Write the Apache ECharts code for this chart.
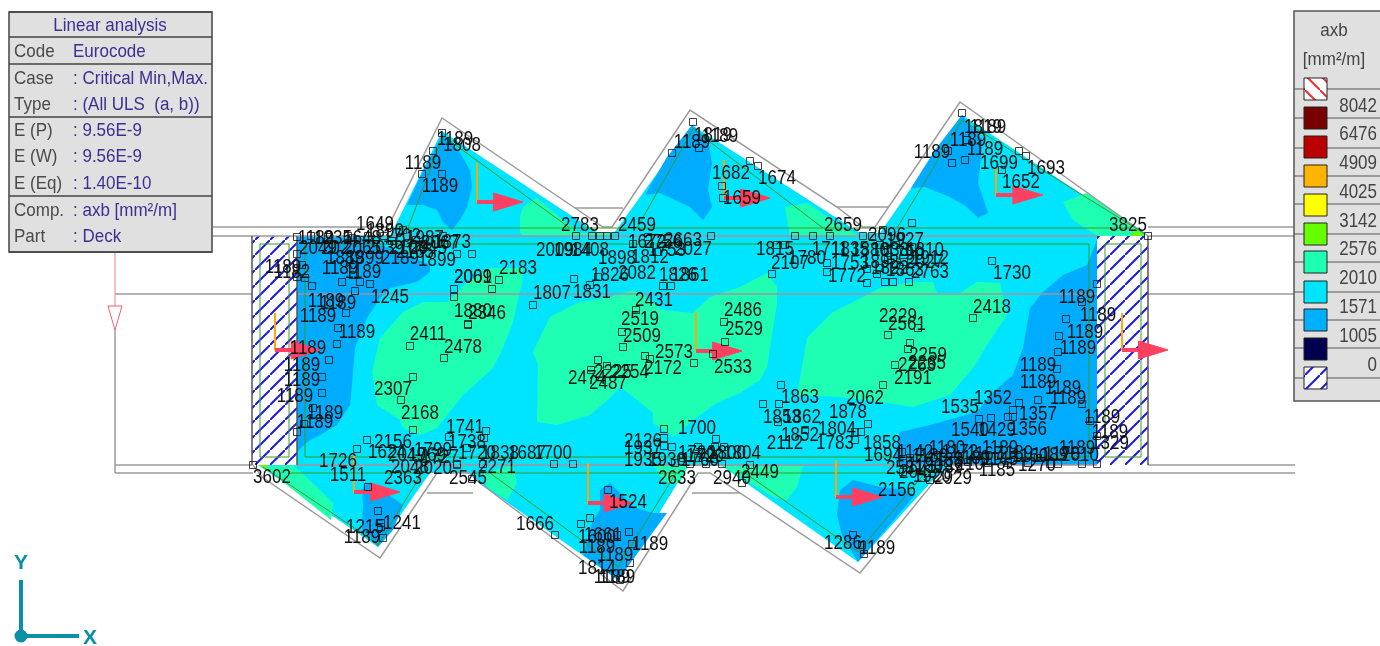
<!DOCTYPE html>
<html><head><meta charset="utf-8">
<style>html,body{margin:0;padding:0;background:#fff}#c{width:1380px;height:646px}</style>
<script src="https://cdn.jsdelivr.net/npm/echarts@6/dist/echarts.min.js"></script>
</head><body><div id="c"></div>
<script>
// ---------- plan geometry (drawing units: x right, y down) ----------
const deckOutline=[[297,236],[390,236],[442,131],[598,233],[614,233],[692,125],[860,233],[880,233],[962,115],[1145,236],[1097,236],[1097,465],[953,465],[933,480],[858,562],[722,466],[688,466],[618,580],[478,482],[468,473],[430,473],[378,547],[258,465],[297,465]];
const supportLeft=[[252,236],[297,236],[297,465],[252,465]];
const supportRight=[[1097,236],[1148,236],[1148,465],[1097,465]];
const zoneMint=[
 [[372,372],[380,338],[403,312],[423,302],[447,302],[457,292],[467,283],[490,268],[523,268],[522,283],[513,322],[503,348],[493,368],[463,395],[437,428],[420,435],[403,428],[400,420],[377,405]],
 [[533,352],[550,317],[577,303],[610,297],[633,290],[647,298],[663,310],[693,313],[710,297],[740,287],[767,273],[777,287],[777,303],[767,367],[760,380],[740,393],[717,403],[697,417],[673,437],[653,423],[653,413],[637,400],[620,387],[610,398],[590,415],[557,425],[537,422],[538,365]],
 [[797,395],[807,338],[833,312],[863,297],[880,288],[913,282],[933,282],[937,293],[960,293],[977,282],[1000,283],[1007,315],[987,345],[973,368],[950,395],[913,407],[880,402],[840,397]],
 [[520,233],[520,217],[523,207],[537,198],[563,220],[580,233],[610,233],[610,236],[523,236]],
 [[785,207],[807,203],[837,223],[855,233],[860,236],[790,236]],
 [[1063,202],[1087,193],[1145,233],[1145,236],[1097,236],[1073,220]],
 [[263,466],[293,465],[317,487],[333,503],[331,520]],
 [[483,473],[513,465],[517,483],[507,500],[487,487]],
 [[653,465],[688,466],[680,483],[665,483]],
 [[722,466],[803,466],[797,487],[787,500],[773,497]]
];
const zoneBlue=[
 [[297,237],[360,238],[400,252],[430,265],[430,272],[417,282],[390,288],[380,298],[367,318],[355,348],[352,385],[350,405],[337,425],[320,435],[307,442],[297,452]],
 [[1097,240],[1087,265],[1063,275],[1043,292],[1030,308],[1023,348],[1013,375],[993,392],[977,412],[930,425],[900,432],[895,455],[897,465],[1097,465]],
 [[443,133],[460,153],[470,170],[472,187],[467,207],[460,220],[452,230],[443,222],[437,210],[423,205],[407,205],[420,177],[433,153]],
 [[692,125],[708,140],[712,163],[708,190],[712,207],[703,220],[690,207],[660,193],[645,195],[667,157]],
 [[962,115],[983,140],[978,183],[988,213],[978,218],[967,207],[950,197],[925,187],[911,188],[935,150]],
 [[362,490],[367,483],[385,492],[403,505],[393,530],[378,547],[362,530],[363,505]],
 [[600,490],[610,483],[620,493],[633,507],[653,513],[667,513],[618,580],[583,555],[593,520],[600,510]],
 [[840,490],[853,480],[880,487],[905,490],[915,495],[858,562],[842,535],[837,515]]
];
const zoneLime=[[[258,465],[268,465],[267,469]],[[1136,230],[1145,236],[1130,236]]];
const greyLines=[
 [[213,227],[388,227]],[[1148,227],[1295,227]],[[213,236],[297,236]],[[1148,236],[1295,236]],
 [[115,294],[252,294]],[[1148,294],[1295,294]],[[115,330],[115,473]],
 [[115,465],[252,465]],[[1148,465],[1295,465]],[[115,473],[253,473]],[[957,473],[1295,473]],
 [[388,227],[442,118],[575,208],[603,227],[612,227],[690,110],[837,207],[863,227],[875,227],[960,102],[1148,236]],
 [[575,208],[623,208]],[[837,207],[888,207]],
 [[253,465],[262,477],[380,558],[437,473],[470,473],[480,483],[623,591],[698,473],[710,473],[860,573],[933,483],[957,473]],
 [[427,493],[473,493]],[[692,493],[740,493]]
];
const deckLines=[[[297,236],[1097,236]],[[297,294],[1097,294]],[[297,465],[1097,465]]];
const darkLines=[[[252,236],[252,465]],[[297,236],[297,465]],[[1148,236],[1148,465]]];
const greenLines=[
 [[395,228],[1130,228]],
 [[305,244],[1089,244],[1089,457],[305,457],[305,244]],
 [[260,244],[289,244],[289,457],[260,457],[260,244]],
 [[1105,244],[1141,244],[1141,457],[1105,457],[1105,244]],
 [[290,473],[424,473]],[[475,473],[678,473]],[[735,473],[930,473]],
 [[408,228],[443,136],[570,228]],
 [[637,228],[693,129],[823,228]],
 [[897,228],[962,120],[1145,234]],
 [[263,467],[353,527],[378,545],[422,473]],
 [[490,473],[618,567],[676,473]],
 [[745,473],[858,552],[925,473]]
];
// ---------- load arrows: origin, top of the orange stem, tip ----------
const arrowX=[477,724,996,696,275,1122,354,588,836];
const arrowY=[202,198,195,351,350,350,492,503,497];
const arrowTop=[163,160,168,312,313,313,455,463,460];
const arrowTip=[523,770,1043,742,320,1168,400,633,882];
// ---------- design-point markers ----------
const markers=[[297,237],[311,236],[328,237],[348,236],[297,254],[302,265],[297,277],[305,278],[312,286],[360,282],[370,284],[355,291],[353,275],[342,282],[346,313],[338,328],[337,344],[329,360],[322,377],[322,393],[313,408],[304,424],[297,432],[367,440],[357,449],[413,430],[401,400],[413,377],[410,346],[444,358],[468,324],[454,289],[454,297],[492,289],[499,280],[457,254],[472,254],[443,236],[533,305],[574,279],[598,277],[590,285],[576,236],[592,236],[600,236],[607,236],[615,236],[598,360],[591,370],[607,366],[486,431],[484,438],[449,437],[467,448],[457,464],[483,464],[554,464],[573,464],[622,332],
[633,244],[648,237],[657,252],[663,286],[671,286],[711,236],[795,236],[813,236],[830,236],[863,236],[872,236],[883,230],[912,223],[672,153],[693,122],[699,148],[750,161],[758,166],[722,186],[723,198],[468,325],[636,310],[623,347],[645,356],[650,359],[694,363],[713,354],[725,342],[724,322],[781,385],[772,274],[827,263],[827,272],[777,245],[785,245],[867,283],[885,282],[893,282],[909,282],[867,269],[877,274],[888,335],[908,349],[910,343],[895,365],[883,385],
[962,113],[948,151],[952,163],[965,160],[967,140],[1019,151],[1026,156],[1002,170],[1148,236],[992,261],[973,318],[918,328],[1097,284],[1082,302],[1066,319],[1059,336],[1058,352],[1057,369],[1038,400],[1082,404],[1019,403],[1013,410],[1008,417],[1013,417],[991,418],[979,419],[1090,421],[1097,436],[1082,464],[1097,464],[1058,464],[1050,464],[868,424],[861,432],[855,432],[855,440],
[902,452],[903,463],[903,472],[922,478],[930,480],[253,465],[368,487],[378,511],[381,523],[381,527],[383,538],[403,230],[422,174],[433,151],[442,174],[442,133],[457,465],[472,479],[608,490],[590,518],[581,524],[555,535],[617,535],[629,532],[632,544],[630,563],[620,580],[664,429],[664,438],[664,446],[672,447],[716,439],[698,447],[724,447],[715,447],[750,465],[742,483],[763,404],[779,404],[778,422],[805,430],[853,535],[862,545],[864,554],
[352,238],[360,240],[368,236],[376,240],[384,236],[392,241],[400,238],[408,243],[416,240],[424,244],[880,245],[888,250],[896,245],[904,252],[912,247],[920,252],[888,260],[896,265],[904,262],[880,268],
[910,458],[920,452],[928,462],[938,455],[948,463],[958,456],[968,462],[978,456],[988,463],[998,456],[1008,463],[1018,457],[1028,463],[1038,458],[675,463],[683,458],[690,464],[698,458],[706,464],[714,459],[722,464]];
// ---------- reinforcement labels, by area: value, x, y ----------
const labelsTop=[["1189",455,139],["1808",462,145],["1189",423,163],["1189",440,186],["2783",580,225],["2459",637,225],["1189",692,142],["1819",713,135],["1189",720,136],["1682",731,173],["1659",742,198],["1674",777,178],["2659",843,225],["1189",932,152],["1819",983,127],["1189",988,127],["1189",968,140],["1189",985,149],["1699",999,163],["1693",1046,168],["1652",1021,182],["3825",1128,225]];
const labelsUpperLeft=[["1649",375,224],["1235",333,238],["1189",316,238],["1648",362,238],["1890",385,231],["1702",402,236],["1987",425,238],["2049",318,248],["2027",340,248],["2065",362,248],["2039",385,248],["2104",408,248],["2045",428,248],["1873",452,242],["2067",440,243],["1889",345,258],["1899",365,258],["2189",400,258],["2165",415,252],["1899",437,260],["1189",283,267],["1182",292,272],["1189",340,268],["1189",363,272],["1189",326,301],["1189",338,303],["1189",318,316],["1189",357,332],["1189",308,348],["1189",302,365],["1189",302,380],["1189",295,396],["1189",325,413],["1189",315,422],["1245",390,297]];
const labelsBodyLeft=[["2069",473,277],["2001",473,277],["2183",518,268],["1880",473,311],["2346",487,313],["2411",428,334],["2478",463,347],["2307",393,389],["2168",420,413],["1741",465,427],["1738",467,442],["2156",393,442],["1726",338,461],["1511",348,475],["2363",403,478],["3602",272,477],["1241",402,523],["1215",365,527],["1189",362,537],["1624",387,452],["2049",407,455],["1799",433,450],["1769",427,455],["1727",440,457],["1720",477,453],["1838",500,453],["1687",527,453],["1700",553,453],["2048",410,467],["2020",433,468],["2271",497,467],["2545",468,478]];
const labelsBodyMid=[["2009",555,250],["1984",573,250],["1408",590,250],["1898",617,258],["1812",650,257],["1826",610,275],["2082",637,273],["1826",678,275],["1861",690,275],["1807",552,293],["1831",592,292],["2431",654,300],["2519",640,319],["2509",642,336],["2573",674,352],["2172",663,368],["2254",630,372],["2225",613,372],["2474",587,378],["2487",608,383],["2533",733,367],["2529",744,329],["2486",743,310],["1672",647,242],["2756",663,242],["2663",683,240],["1753",667,250],["2027",693,249]];
const labelsBottomMid=[["1666",535,524],["1524",628,502],["1661",603,535],["1600",597,537],["1189",597,547],["1189",615,555],["1189",650,544],["1814",597,568],["1189",612,577],["1189",617,577],["2126",643,441],["1937",643,448],["1935",643,460],["1700",697,428],["1930",667,460],["1790",697,453],["1760",700,460],["1720",705,456],["1804",742,453],["1800",727,453],["2633",677,478],["2940",732,478],["2449",760,472],["2112",785,443],["1783",835,443],["1804",837,429],["1878",848,412],["2062",865,398],["1863",800,397],["1853",782,417],["1862",802,417],["1852",800,435],["1858",882,443],["1694",883,455],["2156",897,490],["1286",843,543],["1189",877,548]];
const labelsUpperRight=[["1815",775,249],["2107",790,263],["1780",807,258],["1711",830,249],["1835",850,249],["1753",850,263],["1772",847,276],["2096",887,235],["1927",905,240],["1810",925,250],["1912",930,258],["2763",930,272],["1892",880,262],["1863",905,270],["1822",890,268],["2027",925,262],["1880",870,250],["1833",890,250],["1790",905,254]];
const labelsBodyRight=[["2229",898,316],["2561",907,324],["2259",928,355],["2265",927,363],["2263",917,365],["2191",913,378],["2418",992,307],["1730",1012,273],["1535",960,407],["1352",993,398],["1357",1038,414],["1356",1028,429],["1540",970,430],["1429",997,430],["1189",1077,297],["1189",1098,315],["1189",1085,332],["1189",1078,348],["1189",1038,365],["1189",1038,382],["1189",1063,388],["1189",1068,398],["1189",1102,417],["1189",1110,432],["1329",1110,443],["1189",1077,448],["1180",947,448],["1189",1000,448]];
const labelsLowerRight=[["2929",953,478],["1185",997,470],["1270",1037,465],["2010",1080,455],["1142",915,452],["1189",930,456],["1138",945,460],["1172",960,452],["1189",972,458],["1167",985,454],["1145",1000,459],["1189",1015,453],["1160",1030,456],["1189",1050,455],["1178",1062,454],["2581",905,468],["2043",918,472],["1920",932,476],["1180",925,466],["1189",945,467],["1210",965,464]];
// ---------- information panel ----------
const infoHead=["Code","Case","Type","E (P)","E (W)","E (Eq)","Comp.","Part"];
const infoBody=["Eurocode",": Critical Min,Max.",": (All ULS  (a, b))",": 9.56E-9",": 9.56E-9",": 1.40E-10",": axb [mm²/m]",": Deck"];
const infoRowY=[52,79,105,131,157,184,211,237];
const infoRules=[12,37,64,117,196,252];
// ---------- legend ----------
const legendValues=["8042","6476","4909","4025","3142","2576","2010","1571","1005","0"];
const legendValueY=[107,135,164,193,222,250,279,308,337,366];
const legendColors=["hatchRed","#780000","#bb0000","#ffb400","#ffff00","#66ff00","#1fffb4","#00e5ff","#00b0ff","#000050","hatchBlue"];
const legendSwatchY=[78,107,136,165,194,223,251,281,309,338,367];
const legendRules=[89,118,148,176,204,234,262,292,320,348,378];

const FONT="'Liberation Sans',Arial,sans-serif";
function hatch(color,dir){
  const s=15,c=document.createElement('canvas');c.width=s;c.height=s;
  const g=c.getContext('2d');g.fillStyle='#fff';g.fillRect(0,0,s,s);g.strokeStyle=color;g.lineWidth=2;
  g.beginPath();
  if(dir>0){g.moveTo(-2,s+2);g.lineTo(s+2,-2);}else{g.moveTo(-2,-2);g.lineTo(s+2,s+2);}
  g.stroke();
  return {image:c,repeat:'repeat'};
}
const hatchBlue=hatch('#1a1ae6',1), hatchRed=hatch('#f03030',-1);
const idx=a=>a.map((_,i)=>[i]);
const base={type:'custom',coordinateSystem:'cartesian2d',silent:true,animation:false,clip:false};
function polySeries(list,fill,stroke,w){
  return Object.assign({},base,{data:idx(list),renderItem(p,api){
    const pts=list[api.value(0)].map(q=>api.coord(q));
    return {type:'polygon',shape:{points:pts},style:{fill:fill,stroke:stroke||null,lineWidth:w||0}};
  }});
}
function lineSeries(list,stroke,w){
  return Object.assign({},base,{data:idx(list),renderItem(p,api){
    const pts=list[api.value(0)].map(q=>api.coord(q));
    return {type:'polyline',shape:{points:pts},style:{fill:null,stroke:stroke,lineWidth:w}};
  }});
}
function textSeries(items,font,color,align,sy){
  return Object.assign({},base,{data:idx(items),renderItem(p,api){
    const t=items[api.value(0)],c=api.coord([t[1],t[2]]);
    return {type:'text',x:c[0],y:c[1],scaleY:sy||1,style:{x:0,y:0,text:t[0],font:font,fill:t[3]||color,align:align,verticalAlign:'middle'}};
  }});
}
const labelItems=[].concat(labelsTop,labelsUpperLeft,labelsBodyLeft,labelsBodyMid,labelsBottomMid,labelsUpperRight,labelsBodyRight,labelsLowerRight);
const arrowSeries=Object.assign({},base,{data:idx(arrowX),renderItem(p,api){
  const i=api.value(0),O=api.coord([arrowX[i],arrowY[i]]),T=api.coord([arrowX[i],arrowTop[i]]),E=api.coord([arrowTip[i],arrowY[i]]);
  const hx=arrowX[i]+(arrowTip[i]-arrowX[i])*0.36;
  const B=api.coord([hx,arrowY[i]-9]),C=api.coord([hx,arrowY[i]+9]);
  return {type:'group',children:[
    {type:'line',shape:{x1:T[0],y1:T[1],x2:O[0],y2:O[1]},style:{stroke:'#ffa800',lineWidth:2}},
    {type:'line',shape:{x1:O[0],y1:O[1],x2:E[0]-8,y2:E[1]},style:{stroke:'#ff4060',lineWidth:4}},
    {type:'polygon',shape:{points:[B,E,C]},style:{fill:'#ff4060',stroke:'#ff4060',lineWidth:1}}
  ]};
}});
const loadLine=Object.assign({},base,{data:[[0]],renderItem(p,api){
  const a=api.coord([115,252]),b=api.coord([115,306]),l=api.coord([108,306]),r=api.coord([122,306]),t=api.coord([115,330]);
  return {type:'group',children:[
    {type:'line',shape:{x1:a[0],y1:a[1],x2:b[0],y2:b[1]},style:{stroke:'#f08090',lineWidth:1}},
    {type:'polygon',shape:{points:[l,r,t]},style:{fill:'#fff',stroke:'#f06070',lineWidth:1}}
  ]};
}});
function rectSeries(rects){
  return Object.assign({},base,{data:idx(rects),renderItem(p,api){
    const r=rects[api.value(0)],a=api.coord([r[0],r[1]]),b=api.coord([r[0]+r[2],r[1]+r[3]]);
    return {type:'rect',shape:{x:a[0],y:a[1],width:b[0]-a[0],height:b[1]-a[1]},style:{fill:r[4],stroke:r[5],lineWidth:r[6]}};
  }});
}
const panels=[[9,12,203,240,'#e0e0e0','#444',1.5],[1294,11,90,390,'#e0e0e0','#555',1.5]];
const swatches=legendSwatchY.map((y,i)=>{
  const k=legendColors[i];
  return [1304,y,23,22,k==='hatchRed'?hatchRed:k==='hatchBlue'?hatchBlue:k,'#222',1];
});
const axisColor='#0a8fa8';
const triad=Object.assign({},base,{data:[[0]],renderItem(p,api){
  const o=api.coord([21,636]),y=api.coord([21,580]),x=api.coord([79,636]);
  return {type:'group',children:[
    {type:'line',shape:{x1:o[0],y1:o[1],x2:y[0],y2:y[1]},style:{stroke:axisColor,lineWidth:4}},
    {type:'line',shape:{x1:o[0],y1:o[1],x2:x[0],y2:x[1]},style:{stroke:axisColor,lineWidth:4}},
    {type:'circle',shape:{cx:o[0],cy:o[1],r:6.5},style:{fill:axisColor}}
  ]};
}});
const panelRuleLines=infoRules.map(y=>[[9,y],[212,y]]);
const legendRuleLines=legendRules.map(y=>[[1294,y],[1380,y]]);

const chart=echarts.init(document.getElementById('c'),null,{renderer:'canvas'});
chart.setOption({
  animation:false,backgroundColor:'#fff',
  grid:{left:0,right:0,top:0,bottom:0,containLabel:false},
  xAxis:{type:'value',min:0,max:1380,show:false},
  yAxis:{type:'value',min:0,max:646,inverse:true,show:false},
  series:[
    polySeries([supportLeft,supportRight],hatchBlue),
    polySeries([deckOutline],'#00e5ff'),
    polySeries(zoneMint,'#1fffb4'),
    polySeries(zoneBlue,'#00acff'),
    polySeries(zoneLime,'#66ff00'),
    lineSeries(greyLines,'#9a9a9a',1.5),
    lineSeries(deckLines,'#a8909c',1.5),
    lineSeries(darkLines,'#555',1.5),
    lineSeries(greenLines,'#3f9a20',1),
    loadLine,
    arrowSeries,
    {type:'scatter',data:markers,symbol:'rect',symbolSize:7,silent:true,animation:false,clip:false,
     itemStyle:{color:'rgba(0,0,0,0)',borderColor:'#111',borderWidth:1}},
    textSeries(labelItems,"17px "+FONT,'#111','center',1.22),
    rectSeries(panels),
    lineSeries(panelRuleLines,'#444',1.3),
    lineSeries(legendRuleLines,'#555',1),
    rectSeries(swatches),
    textSeries([["Linear analysis",110,26,'#3b3091']],"17px "+FONT,'#3b3091','center',1.12),
    textSeries(infoHead.map((t,i)=>[t,14,infoRowY[i]]),"17px "+FONT,'#4a4a4a','left',1.12),
    textSeries(infoBody.map((t,i)=>[t,73,infoRowY[i]]),"17px "+FONT,'#3b3091','left',1.12),
    textSeries([["axb",1334,31,'#444'],["[mm²/m]",1334,60,'#444']],"17px "+FONT,'#444','center',1.1),
    textSeries(legendValues.map((t,i)=>[t,1377,legendValueY[i]]),"17px "+FONT,'#444','right',1.15),
    triad,
    textSeries([["Y",21,563],["X",90,638]],"bold 21px "+FONT,axisColor,'center')
  ]
});
</script></body></html>
